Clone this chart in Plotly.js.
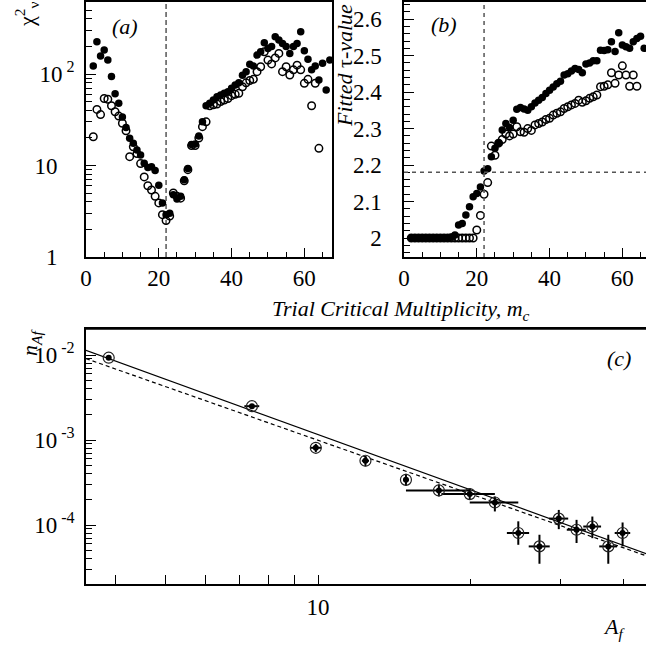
<!DOCTYPE html>
<html><head><meta charset="utf-8">
<script src="https://cdn.plot.ly/plotly-3.0.1.min.js"></script>
<style>html,body{margin:0;padding:0;background:#fff}</style>
</head><body>
<div id="chart" style="width:646px;height:645px"></div>
<script>
// ---------- Panel (a): reduced chi^2 vs trial critical multiplicity ----------
const mA_filled = [2,3,4,5,6,7,8,9,10,11,12,13,14,15,16,17,18,19,20,21,22,23,24,25,26,27,28,29,30,31,32,33,34,35,36,37,38,39,40,41,42,43,44,45,46,47,48,49,50,51,52,53,54,55,56,57,58,59,60,61,62,63,64,65,66,67];
const chiA_filled = [122,225,157,183,142,94,61,48,34,26,19.8,17.5,14.8,13,10.6,9.5,9.7,8.8,6.1,3.9,2.9,3.0,4.8,4.3,4.6,7.0,9.3,17,17.2,21,30,45,48,52,56.5,59,61.5,64,70,76,80,97,106,128,122,161,175,220,190,200,256,235,215,200,168,200,216,290,180,145,111,122,86,131,67,142];
const mA_open = [2,3,4,5,6,7,8,9,10,11,12,13,14,15,16,17,18,19,20,21,22,23,24,25,26,27,28,29,30,31,32,33,34,35,36,37,38,39,40,41,42,43,44,45,46,47,48,49,50,51,52,53,54,55,56,57,58,59,60,61,62,63,64];
const chiA_open = [20.6,41,36,54,53,45,38.7,34.7,29,24,12.5,16,13.5,10.5,7.5,6.0,5.4,4.6,3.9,2.9,2.5,2.8,5.0,4.6,4.4,6.8,9.0,16.5,16.5,20,26.6,30,45,46,47,50,52,54,58,60,61.5,72.6,80,85,87.5,106,120,175,142,129,150,168,106,120,97.5,111,125,111,79,87.5,45,79,15.4];

// ---------- Panel (b): fitted tau vs trial critical multiplicity ----------
const mB_filled = [2,3,4,5,6,7,8,9,10,11,12,13,14,15,16,17,18,19,20,21,22,23,24,25,26,27,28,29,30,31,32,33,34,35,36,37,38,39,40,41,42,43,44,45,46,47,48,49,50,51,52,53,54,55,56,57,58,59,60,61,62,63,64,65,66];
const tauB_filled = [2,2,2,2,2,2,2,2,2,2,2,2.003,2.008,2.036,2.04,2.063,2.086,2.113,2.122,2.14,2.184,2.19,2.223,2.246,2.26,2.296,2.314,2.303,2.323,2.353,2.358,2.354,2.35,2.36,2.37,2.378,2.385,2.396,2.405,2.414,2.423,2.43,2.447,2.45,2.458,2.465,2.462,2.453,2.477,2.48,2.486,2.486,2.515,2.514,2.516,2.538,2.511,2.563,2.529,2.524,2.52,2.538,2.547,2.553,2.52];
const mB_open = [2,3,4,5,6,7,8,9,10,11,12,13,14,15,16,17,18,19,20,21,22,23,24,25,26,27,28,29,30,31,32,33,34,35,36,37,38,39,40,41,42,43,44,45,46,47,48,49,50,51,52,53,54,55,56,57,58,59,60,61,62,63,64];
const tauB_open = [2,2,2,2,2,2,2,2,2,2,2,2,2,2,2,2,2,2,2.022,2.062,2.12,2.152,2.252,2.227,2.26,2.27,2.285,2.28,2.285,2.305,2.291,2.29,2.3,2.295,2.31,2.314,2.318,2.325,2.328,2.337,2.342,2.346,2.355,2.36,2.365,2.369,2.378,2.372,2.376,2.383,2.387,2.392,2.415,2.416,2.42,2.453,2.424,2.447,2.472,2.447,2.416,2.447,2.416];

const critM = 22;      // dashed vertical line
const critTau = 2.18;  // dashed horizontal line

// ---------- Panel (c): n_Af vs A_f ----------
const Af = [3.87,7.41,9.9,12.4,14.9,17.3,19.9,22.3,24.8,27.3,29.8,32.3,34.7,37.3,39.8];
const nAf = [9.3e-3,2.5e-3,8.1e-4,5.7e-4,3.4e-4,2.55e-4,2.31e-4,1.84e-4,8.05e-5,5.6e-5,1.19e-4,8.8e-5,9.6e-5,5.6e-5,8.05e-5];
const AfErrPlus  = [0,0.25,0.25,0.2,0.2,2.6,2.4,2.5,1.25,1.3,1.3,1.4,1.4,1.5,1.4];
const AfErrMinus = [0,0.25,0.25,0.2,0.2,2.4,2.4,2.4,1.25,1.3,1.3,1.4,1.4,1.5,1.4];
const nErrPlus  = [0,0,9e-5,8e-5,6e-5,4.5e-5,4e-5,3.2e-5,3.0e-5,2.08e-5,3.15e-5,2.7e-5,2.98e-5,2.08e-5,2.66e-5];
const nErrMinus = [0,0,9e-5,8e-5,5e-5,3.8e-5,3.4e-5,3.96e-5,2.2e-5,2.1e-5,2.96e-5,2.66e-5,2.6e-5,2.1e-5,2.44e-5];
const fitA = [3.49,44.3];
const fitSolid = [1.135e-2,4.61e-5];
const fitDashed = [9.08e-3,4.34e-5];

// ---------- layout helpers ----------
const W = 646, H = 645;
const px = v => v / W;
const py = v => 1 - v / H;
const FONT = 'Liberation Serif';
const NB = '\u00a0';
const tf = () => ({family: FONT, size: 23, color: 'black'});
const af = (s) => ({family: FONT, size: s, color: 'black'});

const traces = [
  {x: mA_filled, y: chiA_filled, xaxis:'x', yaxis:'y', mode:'markers', type:'scatter',
   marker:{symbol:'circle', size:7.5, color:'black'}, hoverinfo:'skip'},
  {x: mA_open, y: chiA_open, xaxis:'x', yaxis:'y', mode:'markers', type:'scatter',
   marker:{symbol:'circle-open', size:7.5, color:'black', line:{width:1.5}}, hoverinfo:'skip'},
  {x: mB_filled, y: tauB_filled, xaxis:'x2', yaxis:'y2', mode:'markers', type:'scatter',
   marker:{symbol:'circle', size:7.5, color:'black'}, hoverinfo:'skip'},
  {x: mB_open, y: tauB_open, xaxis:'x2', yaxis:'y2', mode:'markers', type:'scatter',
   marker:{symbol:'circle-open', size:7.5, color:'black', line:{width:1.5}}, hoverinfo:'skip'},
  {x: fitA, y: fitSolid, xaxis:'x3', yaxis:'y3', mode:'lines', type:'scatter',
   line:{color:'black', width:1.2}, hoverinfo:'skip'},
  {x: fitA, y: fitDashed, xaxis:'x3', yaxis:'y3', mode:'lines', type:'scatter',
   line:{color:'black', width:1.2, dash:'4px,3px'}, hoverinfo:'skip'},
  {x: Af, y: nAf, xaxis:'x3', yaxis:'y3', mode:'markers', type:'scatter',
   marker:{symbol:'circle-open', size:11, color:'#222', line:{width:1.2}},
   error_x:{type:'data', symmetric:false, array:AfErrPlus, arrayminus:AfErrMinus, color:'black', thickness:2, width:0},
   error_y:{type:'data', symmetric:false, array:nErrPlus, arrayminus:nErrMinus, color:'black', thickness:2, width:0},
   hoverinfo:'skip'},
  {x: Af, y: nAf, xaxis:'x3', yaxis:'y3', mode:'markers', type:'scatter',
   marker:{symbol:'circle', size:6, color:'black'}, hoverinfo:'skip'}
];

function ax(extra) {
  return Object.assign({showgrid:false, zeroline:false, showline:true, linecolor:'black', linewidth:1.5,
    ticks:'inside', tickcolor:'black', tickwidth:1.3, tickfont: tf()}, extra);
}

const layout = {
  width: W, height: H,
  margin: {l:0, r:0, t:0, b:0},
  paper_bgcolor: 'white', plot_bgcolor: 'white',
  showlegend: false,
  xaxis: ax({domain:[px(86), px(332)], range:[0, 67.6], anchor:'y', mirror:true,
    tickmode:'array', tickvals:[0,20,40,60], ticktext:['0','20','40','60'], ticklen:9,
    minor:{tickmode:'linear', tick0:0, dtick:5, ticks:'inside', ticklen:5, tickcolor:'black', tickwidth:1.2}}),
  yaxis: ax({domain:[py(257), py(2)], type:'log', range:[0, 2.787], anchor:'x', mirror:true,
    tickmode:'array', tickvals:[1,10,100], ticktext:['1'+NB+NB+NB, '10'+NB+NB+NB, '10<sup>'+NB+'2</sup>'], ticklen:10,
    ticklabelstandoff: 5,
    minor:{tickmode:'array', tickvals:[2,3,4,5,6,7,8,9,20,30,40,50,60,70,80,90,200,300,400,500,600],
      ticks:'inside', ticklen:6, tickcolor:'black', tickwidth:1.2}}),
  xaxis2: ax({domain:[px(404), 1], range:[0, 66.5], anchor:'y2', mirror:true,
    tickmode:'array', tickvals:[0,20,40,60], ticktext:['0','20','40','60'], ticklen:9,
    minor:{tickmode:'linear', tick0:0, dtick:5, ticks:'inside', ticklen:5, tickcolor:'black', tickwidth:1.2}}),
  yaxis2: ax({domain:[py(257), py(2)], range:[1.948, 2.647], anchor:'x2', mirror:false,
    tickmode:'array', tickvals:[2,2.1,2.2,2.3,2.4,2.5,2.6], ticktext:['2','2.1','2.2','2.3','2.4','2.5','2.6'], ticklen:10,
    ticklabelstandoff: 16,
    minor:{tickmode:'linear', tick0:2, dtick:0.02, ticks:'inside', ticklen:6, tickcolor:'black', tickwidth:1.2}}),
  xaxis3: ax({domain:[px(86), 1], type:'log', range:[0.543, 1.646], anchor:'y3', mirror:true,
    tickmode:'array', tickvals:[4,5,6,7,8,9,10], ticktext:['','','','','','','10'], ticklen:9,
    ticklabelstandoff: 2,
    minor:{tickmode:'array', tickvals:[20,30,40], ticks:'inside', ticklen:5, tickcolor:'black', tickwidth:1.2}}),
  yaxis3: ax({domain:[py(584), py(329)], type:'log', range:[-4.694, -1.694], anchor:'x3', mirror:false,
    tickmode:'array', tickvals:[1e-4,1e-3,1e-2], ticktext:['10<sup>'+NB+'-4</sup>','10<sup>'+NB+'-3</sup>','10<sup>'+NB+'-2</sup>'], ticklen:10,
    ticklabelstandoff: 5,
    minor:{tickmode:'array', tickvals:[3e-5,4e-5,5e-5,6e-5,7e-5,8e-5,9e-5,2e-4,3e-4,4e-4,5e-4,6e-4,7e-4,8e-4,9e-4,2e-3,3e-3,4e-3,5e-3,6e-3,7e-3,8e-3,9e-3,2e-2],
      ticks:'inside', ticklen:6, tickcolor:'black', tickwidth:1.2}}),
  shapes: [
    {type:'line', xref:'x', yref:'y domain', x0:critM, x1:critM, y0:0, y1:1, line:{color:'black', width:1, dash:'5px,3px'}},
    {type:'line', xref:'x2', yref:'y2 domain', x0:critM, x1:critM, y0:0, y1:1, line:{color:'#555', width:1.5, dash:'4px,4px'}},
    {type:'line', xref:'x2 domain', yref:'y2', x0:0, x1:1, y0:critTau, y1:critTau, line:{color:'#555', width:1.5, dash:'4px,4px'}},
    {type:'line', xref:'x3 domain', yref:'y3 domain', x0:0, x1:1, y0:1, y1:1, line:{color:'black', width:1.5}}
  ],
  annotations: [
    {text:'<i>(a)</i>', xref:'paper', yref:'paper', x:px(125), y:py(26), showarrow:false, xanchor:'center', yanchor:'middle', font:af(22)},
    {text:'<i>(b)</i>', xref:'paper', yref:'paper', x:px(444), y:py(24), showarrow:false, xanchor:'center', yanchor:'middle', font:af(22)},
    {text:'<i>(c)</i>', xref:'paper', yref:'paper', x:px(619), y:py(358), showarrow:false, xanchor:'center', yanchor:'middle', font:af(22)},
    {text:'<i>Trial Critical Multiplicity, m<sub>c</sub></i>', xref:'paper', yref:'paper', x:px(401), y:py(310), showarrow:false, xanchor:'center', yanchor:'middle', font:af(22)},
    {text:'<i>Fitted</i> τ<i>-value</i>', xref:'paper', yref:'paper', x:px(345), y:py(65), textangle:-90, showarrow:false, xanchor:'center', yanchor:'middle', font:af(22)},
    {text:'χ<sup>2</sup><sub>ν</sub>', xref:'paper', yref:'paper', x:px(27), y:py(14), textangle:-90, showarrow:false, xanchor:'center', yanchor:'middle', font:af(22)},
    {text:'<i>n<sub>Af</sub></i>', xref:'paper', yref:'paper', x:px(31), y:py(343), textangle:-90, showarrow:false, xanchor:'center', yanchor:'middle', font:af(22)},
    {text:'<i>A<sub>f</sub></i>', xref:'paper', yref:'paper', x:px(614), y:py(628), showarrow:false, xanchor:'center', yanchor:'middle', font:af(22)}
  ]
};

Plotly.newPlot('chart', traces, layout, {displayModeBar:false});
</script></body></html>
